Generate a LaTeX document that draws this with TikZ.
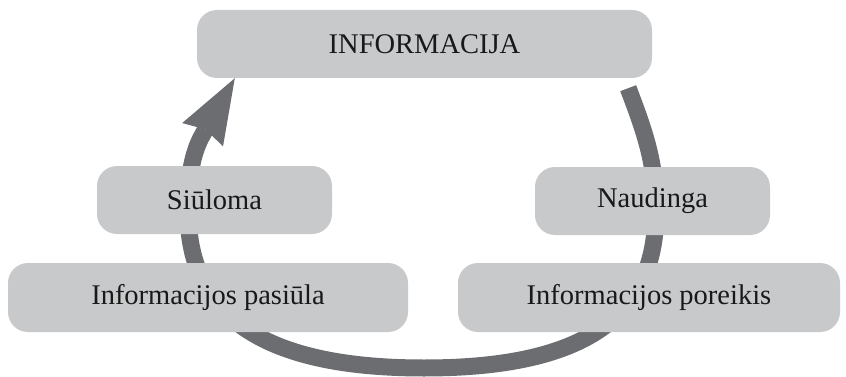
\documentclass[tikz,border=0pt]{standalone}
\usepackage{fontspec}
\setmainfont{Liberation Serif}
\usepackage{tikz}
\usetikzlibrary{arrows.meta,calc,backgrounds}
\definecolor{boxgray}{HTML}{C8C9CB}
\definecolor{arcgray}{HTML}{6C6D71}
\begin{document}
\begin{tikzpicture}[x=1pt,y=-1pt,>=Stealth,
    stage/.style={fill=boxgray,rounded corners=20pt,minimum height=68pt,
        inner sep=0pt,text=black!90,font=\fontsize{28.5}{34}\selectfont}]
    \useasboundingbox (0,0) rectangle (846,377);
    % boxes
    \node[stage,minimum width=455pt] (info) at (424.5,44) {INFORMACIJA};
    \node[stage,minimum width=235pt] (siul) at (214.5,200) {Siūloma};
    \node[stage,minimum width=235pt] (naud) at (652.5,201) {Naudinga};
    \node[stage,minimum width=400pt,minimum height=69pt] (pasi) at (208,297.5) {Informacijos pasiūla};
    \node[stage,minimum width=382pt,minimum height=69pt] (pore) at (649,297.5) {Informacijos poreikis};

    % cycle arrow behind the boxes
    \coordinate (cycstart) at ($(info.south east)+(-24,10)$);
    \coordinate (cyctip) at ($(info.south west)+(38,0)$);
    \coordinate (cycbase) at (203,134);
    \begin{scope}[on background layer]
        \draw[arcgray,line width=17pt,-{Stealth[length=65pt,width=47pt,inset=6pt,line width=0pt]}]
            (cycstart) .. controls (642,125) and (656,160) .. (656,210)
            .. controls (656,310) and (595,368) .. (424,368)
            .. controls (254,368) and (188,310) .. (188,210)
            .. controls (188,175) and (193,151) .. (cycbase) -- (cyctip);
    \end{scope}
\end{tikzpicture}
\end{document}
